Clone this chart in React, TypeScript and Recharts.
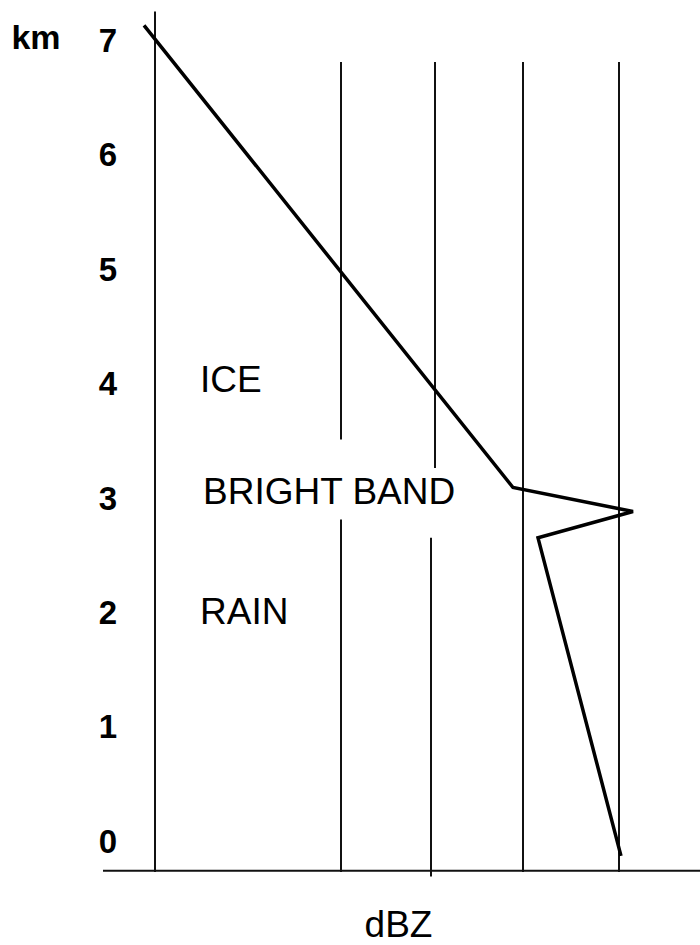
import React from 'react';
import { LineChart, Line, XAxis, YAxis, ReferenceLine, ReferenceDot } from 'recharts';

// reflectivity profile (dBZ axis is schematic, 10 px per unit)
const dbz = [14.4, 51.3, 63.3, 53.8, 62.1];
const heightKm = [7.13, 3.09, 2.88, 2.65, -0.13];

const kmTicks = [0, 1, 2, 3, 4, 5, 6, 7];

// vertical guide lines, some broken where the text sits
const guideX = [15.5, 34.1, 34.1, 43.5, 43.1, 52.3, 61.9];
const guideFrom = [-0.27, 3.51, -0.27, 3.26, -0.31, -0.27, -0.27];
const guideTo = [7.25, 6.81, 2.81, 6.81, 2.65, 6.81, 6.81];

const zoneNames = ['ICE', 'BRIGHT BAND', 'RAIN'];
const zoneX = [20.0, 20.3, 20.0];
const zoneY = [4.04, 3.06, 2.01];

const baseLevel = -0.26;

const font = '"Liberation Sans", Arial, sans-serif';

const profile = dbz.map((x, i) => ({ x, y: heightKm[i] }));

const renderKmTick = (props: any) => {
  const { y, payload } = props;
  return (
    <text key={`t-${payload.value}`} x={108} y={y} dy="0.36em" textAnchor="middle" fontFamily={font} fontSize={33} fontWeight="bold" fill="#000">
      {payload.value}
    </text>
  );
};

const App = () => {
  return (
    <div style={{ position: 'absolute', left: 0, top: 0, width: 700, height: 945, background: '#fff' }}>
      <LineChart width={700} height={945} data={profile} margin={{ top: 0, right: 0, bottom: 0, left: 0 }}>
        <XAxis dataKey="x" type="number" domain={[0, 70]} hide />
        <YAxis
          type="number"
          domain={[-0.909, 7.351]}
          ticks={kmTicks}
          interval={0}
          mirror
          width={1}
          axisLine={false}
          tickLine={false}
          tick={renderKmTick}
        />
        <ReferenceLine
          segment={[{ x: 10.3, y: baseLevel }, { x: 70, y: baseLevel }]}
          stroke="#111"
          strokeWidth={2}
        />
        {guideX.map((gx, i) => (
          <ReferenceLine
            key={`g-${i}`}
            segment={[{ x: gx, y: guideFrom[i] }, { x: gx, y: guideTo[i] }]}
            stroke="#111"
            strokeWidth={2}
          />
        ))}
        <Line
          dataKey="y"
          stroke="#000"
          strokeWidth={3.5}
          strokeLinejoin="miter"
          dot={false}
          activeDot={false}
          isAnimationActive={false}
        />
        {zoneNames.map((name, i) => (
          <ReferenceDot
            key={name}
            x={zoneX[i]}
            y={zoneY[i]}
            r={0}
            stroke="none"
            fill="none"
            label={{ value: name, position: 'right', offset: 0, fontFamily: font, fontSize: 37, fill: '#000' }}
          />
        ))}
        <ReferenceDot
          x={39.85}
          y={-0.72}
          r={0}
          stroke="none"
          fill="none"
          label={{ value: 'dBZ', position: 'center', fontFamily: font, fontSize: 37, fill: '#000' }}
        />
        <ReferenceDot
          x={3.6}
          y={7.03}
          r={0}
          stroke="none"
          fill="none"
          ifOverflow="visible"
          label={{ value: 'km', position: 'center', fontFamily: font, fontSize: 34, fontWeight: 'bold', fill: '#000' }}
        />
      </LineChart>
    </div>
  );
};

export default App;
